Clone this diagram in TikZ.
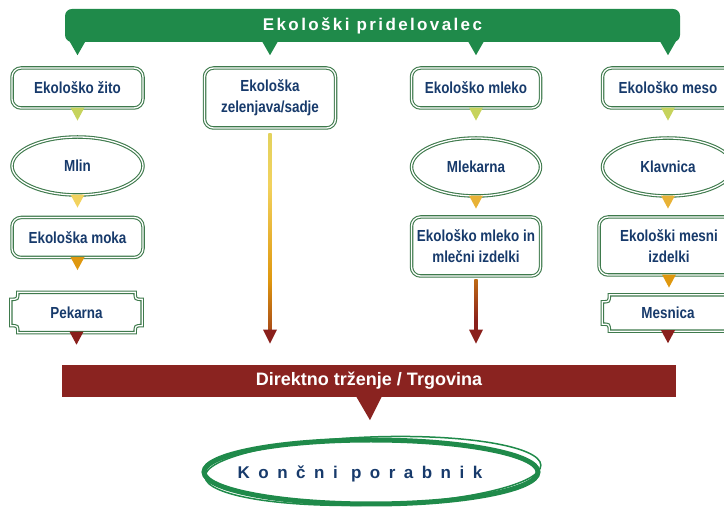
\documentclass[tikz,border=0pt]{standalone}
\usepackage{fontspec}
\setmainfont{Liberation Sans}
\newfontfamily\narrowfont[FakeStretch=0.84]{Liberation Sans}
\usetikzlibrary{shapes.geometric,calc}
\definecolor{barGreen}{HTML}{1F8A4A}
\definecolor{lineGreen}{HTML}{3E7A4C}
\definecolor{navy}{HTML}{173A6B}
\definecolor{ptLime}{HTML}{C6D35C}
\definecolor{ptYellow}{HTML}{F2D25E}
\definecolor{ptGold}{HTML}{E8B236}
\definecolor{ptOrange}{HTML}{DF980F}
\definecolor{ptRed}{HTML}{8A201C}
\definecolor{barRed}{HTML}{8A2320}
\pgfdeclareverticalshading{vegflow}{100bp}{color(0bp)=(ptRed); color(18bp)=(ptRed); color(38bp)=(ptOrange); color(62bp)=(ptYellow); color(100bp)=(ptLime)}
\pgfdeclareverticalshading{milkflow}{100bp}{color(0bp)=(ptRed); color(35bp)=(ptRed); color(100bp)=(ptOrange)}
\newcommand\tip[3][12]{\fill[#3] ($(#2.south)+(-7,1)$) -- ($(#2.south)+(7,1)$) -- ($(#2.south)+(0,-#1)$) -- cycle;}
\newcommand\plaque[1]{\draw[plaqueline] ($(#1.north west)+(7,0)$) -- ($(#1.north east)+(-7,0)$)
  .. controls ($(#1.north east)+(-7,-7)$) .. ($(#1.north east)+(0,-7)$) -- ($(#1.south east)+(0,7)$)
  .. controls ($(#1.south east)+(-7,7)$) .. ($(#1.south east)+(-7,0)$) -- ($(#1.south west)+(7,0)$)
  .. controls ($(#1.south west)+(7,7)$) .. ($(#1.south west)+(0,7)$) -- ($(#1.north west)+(0,-7)$)
  .. controls ($(#1.north west)+(7,-7)$) .. ($(#1.north west)+(7,0)$) -- cycle;}
\begin{document}
\begin{tikzpicture}[x=1pt,y=1pt,
  boxfont/.style={font=\narrowfont\bfseries\fontsize{16}{21}\selectfont},
  prod/.style={draw=lineGreen, double=white, double distance=1.3pt, line width=1.1pt, fill=white,
    rounded corners=9pt, minimum width=131pt, minimum height=40pt, align=center, text=navy, boxfont, inner sep=2pt},
  proc/.style={prod, ellipse, minimum height=58pt},
  shop/.style={align=center, text=navy, boxfont, minimum width=131pt, minimum height=40pt, inner sep=2pt},
  plaqueline/.style={draw=lineGreen, double=white, double distance=1.3pt, line width=1.1pt},
  bar/.style={minimum height=33pt, text=white, inner sep=0pt}]
\useasboundingbox (0,0) rectangle (724,-510);
\clip (0,0) rectangle (724,-510);
\node[bar, fill=barGreen, rounded corners=7pt, minimum width=615pt,
  font=\bfseries\fontsize{17}{20}\selectfont\addfontfeature{LetterSpace=14}] (prid) at (372.5,-25.5) {Ekološki pridelovalec};
\node[prod] (zito) at (77.5,-88) {Ekološko žito};
\node[proc] (mlin) at (77.5,-166) {Mlin};
\node[prod] (moka) at (77.5,-237.5) {Ekološka moka};
\node[shop] (pek) at (76.5,-312.5) {Pekarna};
\node[prod, minimum height=60pt] (zel) at (270,-98) {Ekološka\\zelenjava/sadje};
\node[prod, minimum width=129pt] (mleko) at (476,-88) {Ekološko mleko};
\node[proc, minimum width=129pt] (mlek) at (476,-167) {Mlekarna};
\node[prod, minimum width=129pt, minimum height=59pt] (mizd) at (476,-246.5) {Ekološko mleko in\\mlečni izdelki};
\node[prod] (meso) at (668,-88) {Ekološko meso};
\node[proc] (klav) at (668,-167) {Klavnica};
\node[prod, minimum width=140pt, minimum height=58pt] (mesizd) at (669,-246) {Ekološki mesni\\izdelki};
\node[shop, minimum height=36pt] (mesn) at (668,-313) {Mesnica};
\plaque{pek}
\plaque{mesn}
\foreach \col in {zito,zel,mleko,meso}
  \fill[barGreen] ($(\col |- prid.south)+(-8,1)$) -- ($(\col |- prid.south)+(8,1)$) -- ($(\col |- prid.south)+(0,-13)$) -- cycle;
\tip{zito}{ptLime}
\tip{mlin}{ptYellow}
\tip{moka}{ptOrange}
\tip{pek}{ptRed}
\tip{mleko}{ptLime}
\tip{mlek}{ptGold}
\tip{meso}{ptLime}
\tip{klav}{ptGold}
\tip{mesizd}{ptOrange}
\tip{mesn}{ptRed}
\coordinate (zelEnd) at ($(zel.south)+(0,-215)$);
\coordinate (mizdEnd) at ($(mizd.south)+(0,-67)$);
\shade[shading=vegflow] ($(zel.south)+(-1.6,-5)$) rectangle ($(zelEnd)+(1.6,12)$);
\fill[ptRed] ($(zelEnd)+(-7,14)$) -- ($(zelEnd)+(7,14)$) -- (zelEnd) -- cycle;
\shade[shading=milkflow] ($(mizd.south)+(-1.6,-3)$) rectangle ($(mizdEnd)+(1.6,12)$);
\fill[ptRed] ($(mizdEnd)+(-7,14)$) -- ($(mizdEnd)+(7,14)$) -- (mizdEnd) -- cycle;
\node[bar, fill=barRed, minimum width=614pt, minimum height=32pt,
  font=\bfseries\fontsize{18}{20}\selectfont] (trg) at (369,-381) {Direktno trženje / Trgovina};
\fill[barRed] ($(trg.south)+(-13,1)$) -- ($(trg.south)+(13,1)$) -- ($(trg.south)+(1,-23)$) -- cycle;
\node[ellipse, draw=barGreen, line width=5pt, minimum width=334pt, minimum height=64pt] (kon) at (371,-472) {};
\draw[barGreen, line width=1.5pt, rotate around={2:(kon.center)}] ($(kon.center)+(2,1)$) ellipse (168 and 34);
\node[text=navy, inner sep=0pt, font=\bfseries\fontsize{17}{18}\selectfont\addfontfeature{LetterSpace=50}] (konTxt) at (360,-474) {Končni porabnik};
\end{tikzpicture}
\end{document}
